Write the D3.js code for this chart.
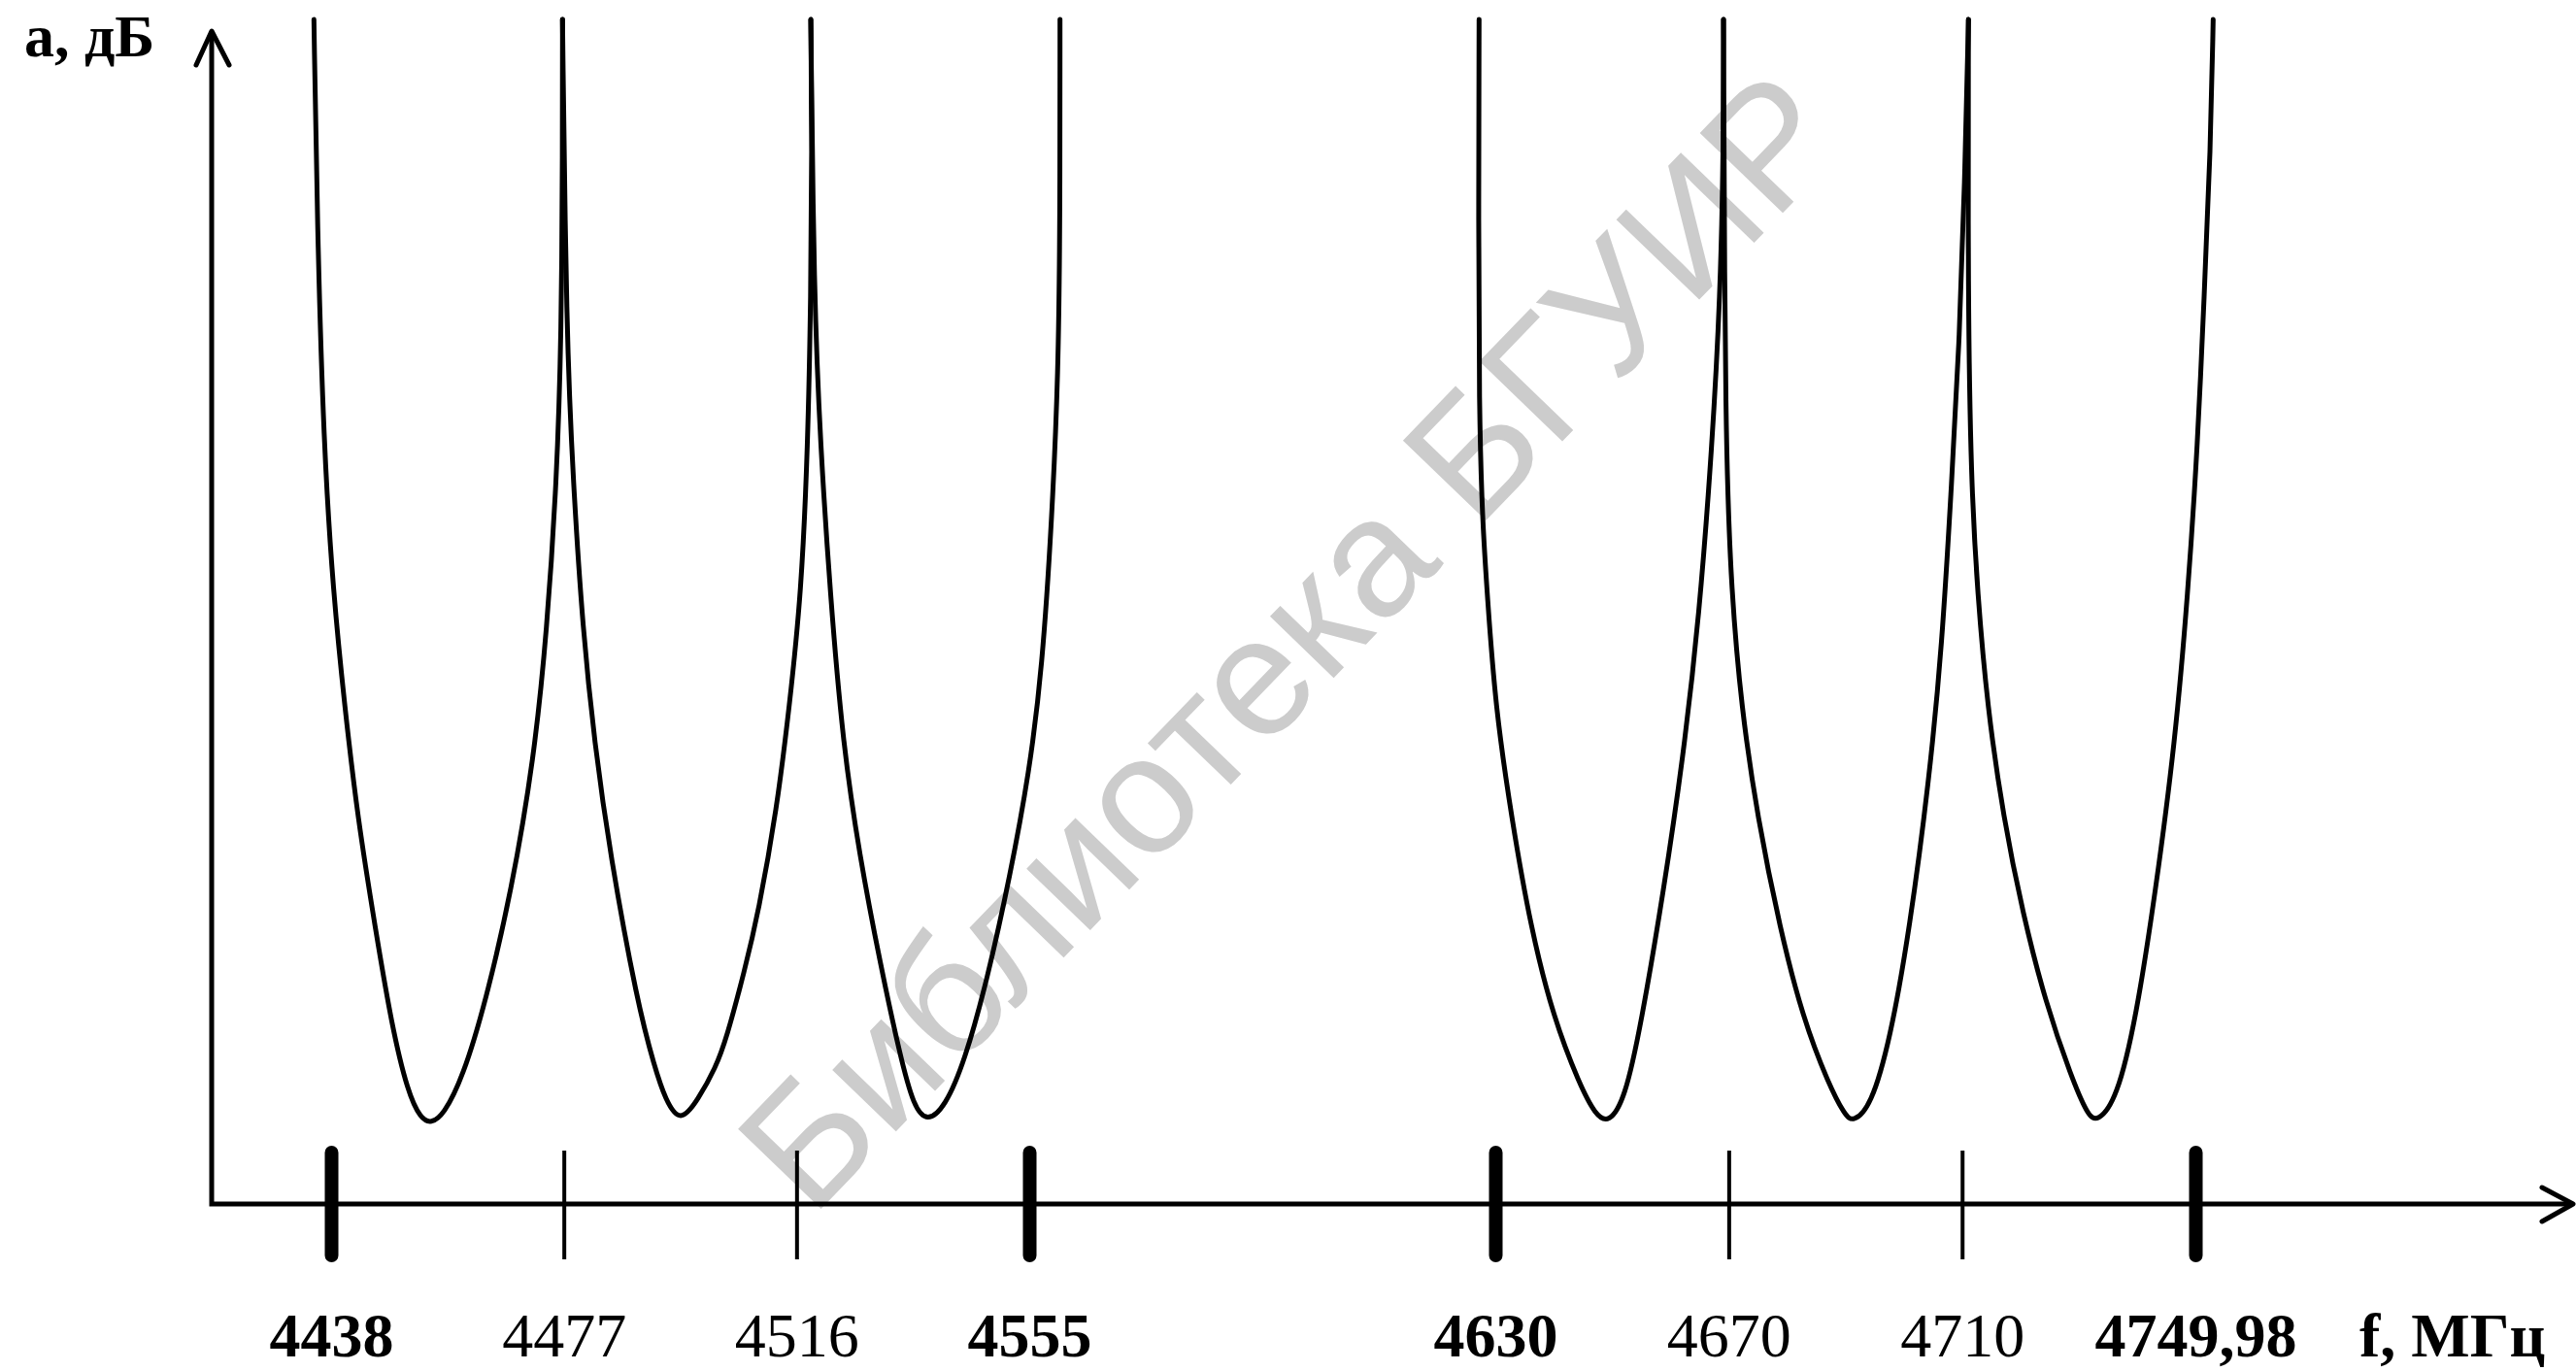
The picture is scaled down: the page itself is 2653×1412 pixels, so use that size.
<!DOCTYPE html>
<html><head><meta charset="utf-8">
<script src="https://cdn.jsdelivr.net/npm/d3@7"></script>
<style>html,body{margin:0;padding:0;background:#fff;} svg{display:block}</style>
</head><body>
<svg id="chart" width="2653" height="1412"></svg>
<script>
// ---- data ----
const majorTicks = [4438, 4555, 4630, 4749.98];
const tickValues = [4438, 4477, 4516, 4555, 4630, 4670, 4710, 4749.98];
const tickLabels = ["4438", "4477", "4516", "4555", "4630", "4670", "4710", "4749,98"];
const xAxisTitle = "f, МГц";
const yAxisTitle = "a, дБ";
const watermark = "Библиотека БГУИР";

// attenuation curves: [frequency MHz, attenuation (relative units, 0..100)]
const curve1 = [[4435.12,100],[4435.67,82.8],[4436.75,64.0],[4438.37,51.5],[4440.28,42.0],[4442.44,32.6],[4445.44,23.2],[4448.14,15.1],[4450.86,9.4],[4453.02,7.2],[4454.76,6.8],[4456.83,7.5],[4460.08,10.7],[4463.87,17.0],[4468.22,26.4],[4472.01,37.6],[4474.17,48.4],[4475.80,60.9],[4476.61,73.4],[4476.78,89.1],[4476.78,100]];
const curve2 = [[4476.78,100],[4477.43,73.4],[4478.57,60.9],[4480.19,48.4],[4482.15,38.9],[4484.75,29.5],[4489.31,17.0],[4492.24,11.5],[4494.03,8.8],[4496.5,6.8],[4499.5,8.8],[4502.44,11.5],[4504.22,13.9],[4507.3,19.7],[4509.6,24.6],[4512.7,33.3],[4514.8,42.0],[4516.8,51.5],[4517.9,64.0],[4518.4,76.6],[4518.6,89.1],[4518.4,100]];
const curve3 = [[4518.39,100],[4518.92,76.6],[4520.01,64.0],[4521.64,51.5],[4523.76,38.9],[4526.52,29.5],[4530.10,20.1],[4533.36,12.5],[4535.64,8.2],[4537.91,6.9],[4540.89,8.2],[4544.15,12.0],[4547.95,18.9],[4551.75,27.6],[4555.0,36.4],[4557.08,45.2],[4558.64,57.7],[4559.69,70.2],[4559.95,82.8],[4559.95,100]];
const curve4 = [[4627.39,100],[4627.30,82.8],[4627.39,67.1],[4627.92,57.7],[4628.70,51.5],[4630.0,42.0],[4632.78,32.6],[4636.11,23.2],[4639.98,15.7],[4644.43,10.1],[4647.19,7.5],[4649.42,6.8],[4652.18,8.8],[4654.96,15.1],[4658.84,26.4],[4662.17,37.6],[4664.95,49.6],[4667.16,64.0],[4668.56,76.6],[4669.11,89.1],[4669.11,100]];
const curve5 = [[4669.11,100],[4669.39,64.0],[4670.49,51.5],[4672.15,42.0],[4674.93,32.6],[4678.81,23.2],[4682.70,15.7],[4687.13,10.1],[4689.91,7.5],[4691.29,6.9],[4694.35,8.2],[4697.68,13.9],[4701.01,23.2],[4704.33,35.7],[4706.55,47.0],[4708.21,60.9],[4709.59,73.4],[4710.43,86.0],[4711.09,100]];
const curve6 = [[4711.09,100],[4710.99,76.6],[4711.54,60.9],[4712.65,51.5],[4714.32,42.0],[4717.08,32.6],[4720.41,24.5],[4724.30,17.0],[4728.73,10.7],[4731.51,7.5],[4733.17,6.9],[4736.50,8.8],[4739.83,15.7],[4743.16,26.4],[4746.49,38.9],[4748.70,51.5],[4750.36,64.0],[4751.48,76.6],[4752.59,89.1],[4753.03,100]];
const curves = [curve1, curve2, curve3, curve4, curve5, curve6];

// ---- drawing ----
const svg = d3.select("#chart");
const W = 2653, H = 1412;
svg.append("rect").attr("width", W).attr("height", H).attr("fill", "#fff");

const x = d3.scaleLinear().domain(majorTicks).range([341, 1060, 1540, 2261]);
const y = d3.scaleLinear().domain([0, 100]).range([1240, 20]);
const axisX0 = 218, axisXEnd = 2650, axisYTop = 32;

// watermark (behind)
const wm = svg.append("text")
  .attr("transform", "translate(1371,701) rotate(-46)")
  .attr("text-anchor", "middle")
  .attr("font-family", "'Liberation Sans', Arial, sans-serif")
  .attr("font-size", 165)
  .attr("fill", "#cccccc")
  .text(watermark);
const L = wm.node().getComputedTextLength();
wm.attr("font-size", 165 * 1541 / L);

// x axis with ticks
const isMajor = d => majorTicks.includes(d);
const gx = svg.append("g")
  .attr("transform", `translate(0,${y(0)})`)
  .call(d3.axisBottom(x).tickValues(tickValues).tickFormat((d, i) => tickLabels[i]).tickSizeOuter(0));
gx.select(".domain").remove();
gx.selectAll(".tick line")
  .attr("y1", d => isMajor(d) ? -53 : -55)
  .attr("y2", d => isMajor(d) ? 53 : 57)
  .attr("stroke", "#000")
  .attr("stroke-width", d => isMajor(d) ? 14 : 4)
  .attr("stroke-linecap", d => isMajor(d) ? "round" : "butt");
gx.selectAll(".tick text")
  .attr("y", 157).attr("dy", null)
  .attr("fill", "#000")
  .attr("font-family", "'Liberation Serif', 'Times New Roman', serif")
  .attr("font-size", 64)
  .attr("font-weight", d => isMajor(d) ? "bold" : "normal");

// axis lines
svg.append("path")
  .attr("d", d3.line()([[axisX0, axisYTop], [axisX0, y(0)], [axisXEnd, y(0)]]))
  .attr("fill", "none").attr("stroke", "#000").attr("stroke-width", 5);
// arrowheads
svg.append("path")
  .attr("d", d3.line()([[axisX0 - 16, axisYTop + 35], [axisX0, axisYTop], [axisX0 + 18, axisYTop + 35]]))
  .attr("fill", "none").attr("stroke", "#000").attr("stroke-width", 5)
  .attr("stroke-linecap", "round").attr("stroke-linejoin", "round");
svg.append("path")
  .attr("d", d3.line()([[axisXEnd - 32, y(0) - 17], [axisXEnd, y(0)], [axisXEnd - 32, y(0) + 18]]))
  .attr("fill", "none").attr("stroke", "#000").attr("stroke-width", 5)
  .attr("stroke-linecap", "round").attr("stroke-linejoin", "round");

// curves
const line = d3.line().x(d => x(d[0])).y(d => y(d[1])).curve(d3.curveBasis);
svg.selectAll("path.curve").data(curves).enter().append("path")
  .attr("class", "curve")
  .attr("d", line)
  .attr("fill", "none").attr("stroke", "#000").attr("stroke-width", 5)
  .attr("stroke-linecap", "round");

// titles
svg.append("text").attr("x", 25).attr("y", 58)
  .attr("font-family", "'Liberation Serif', 'Times New Roman', serif")
  .attr("font-size", 62).attr("font-weight", "bold").attr("fill", "#000")
  .text(yAxisTitle);
svg.append("text").attr("x", 2430).attr("y", 1397)
  .attr("font-family", "'Liberation Serif', 'Times New Roman', serif")
  .attr("font-size", 64).attr("font-weight", "bold").attr("fill", "#000")
  .text(xAxisTitle);
</script>
</body></html>
